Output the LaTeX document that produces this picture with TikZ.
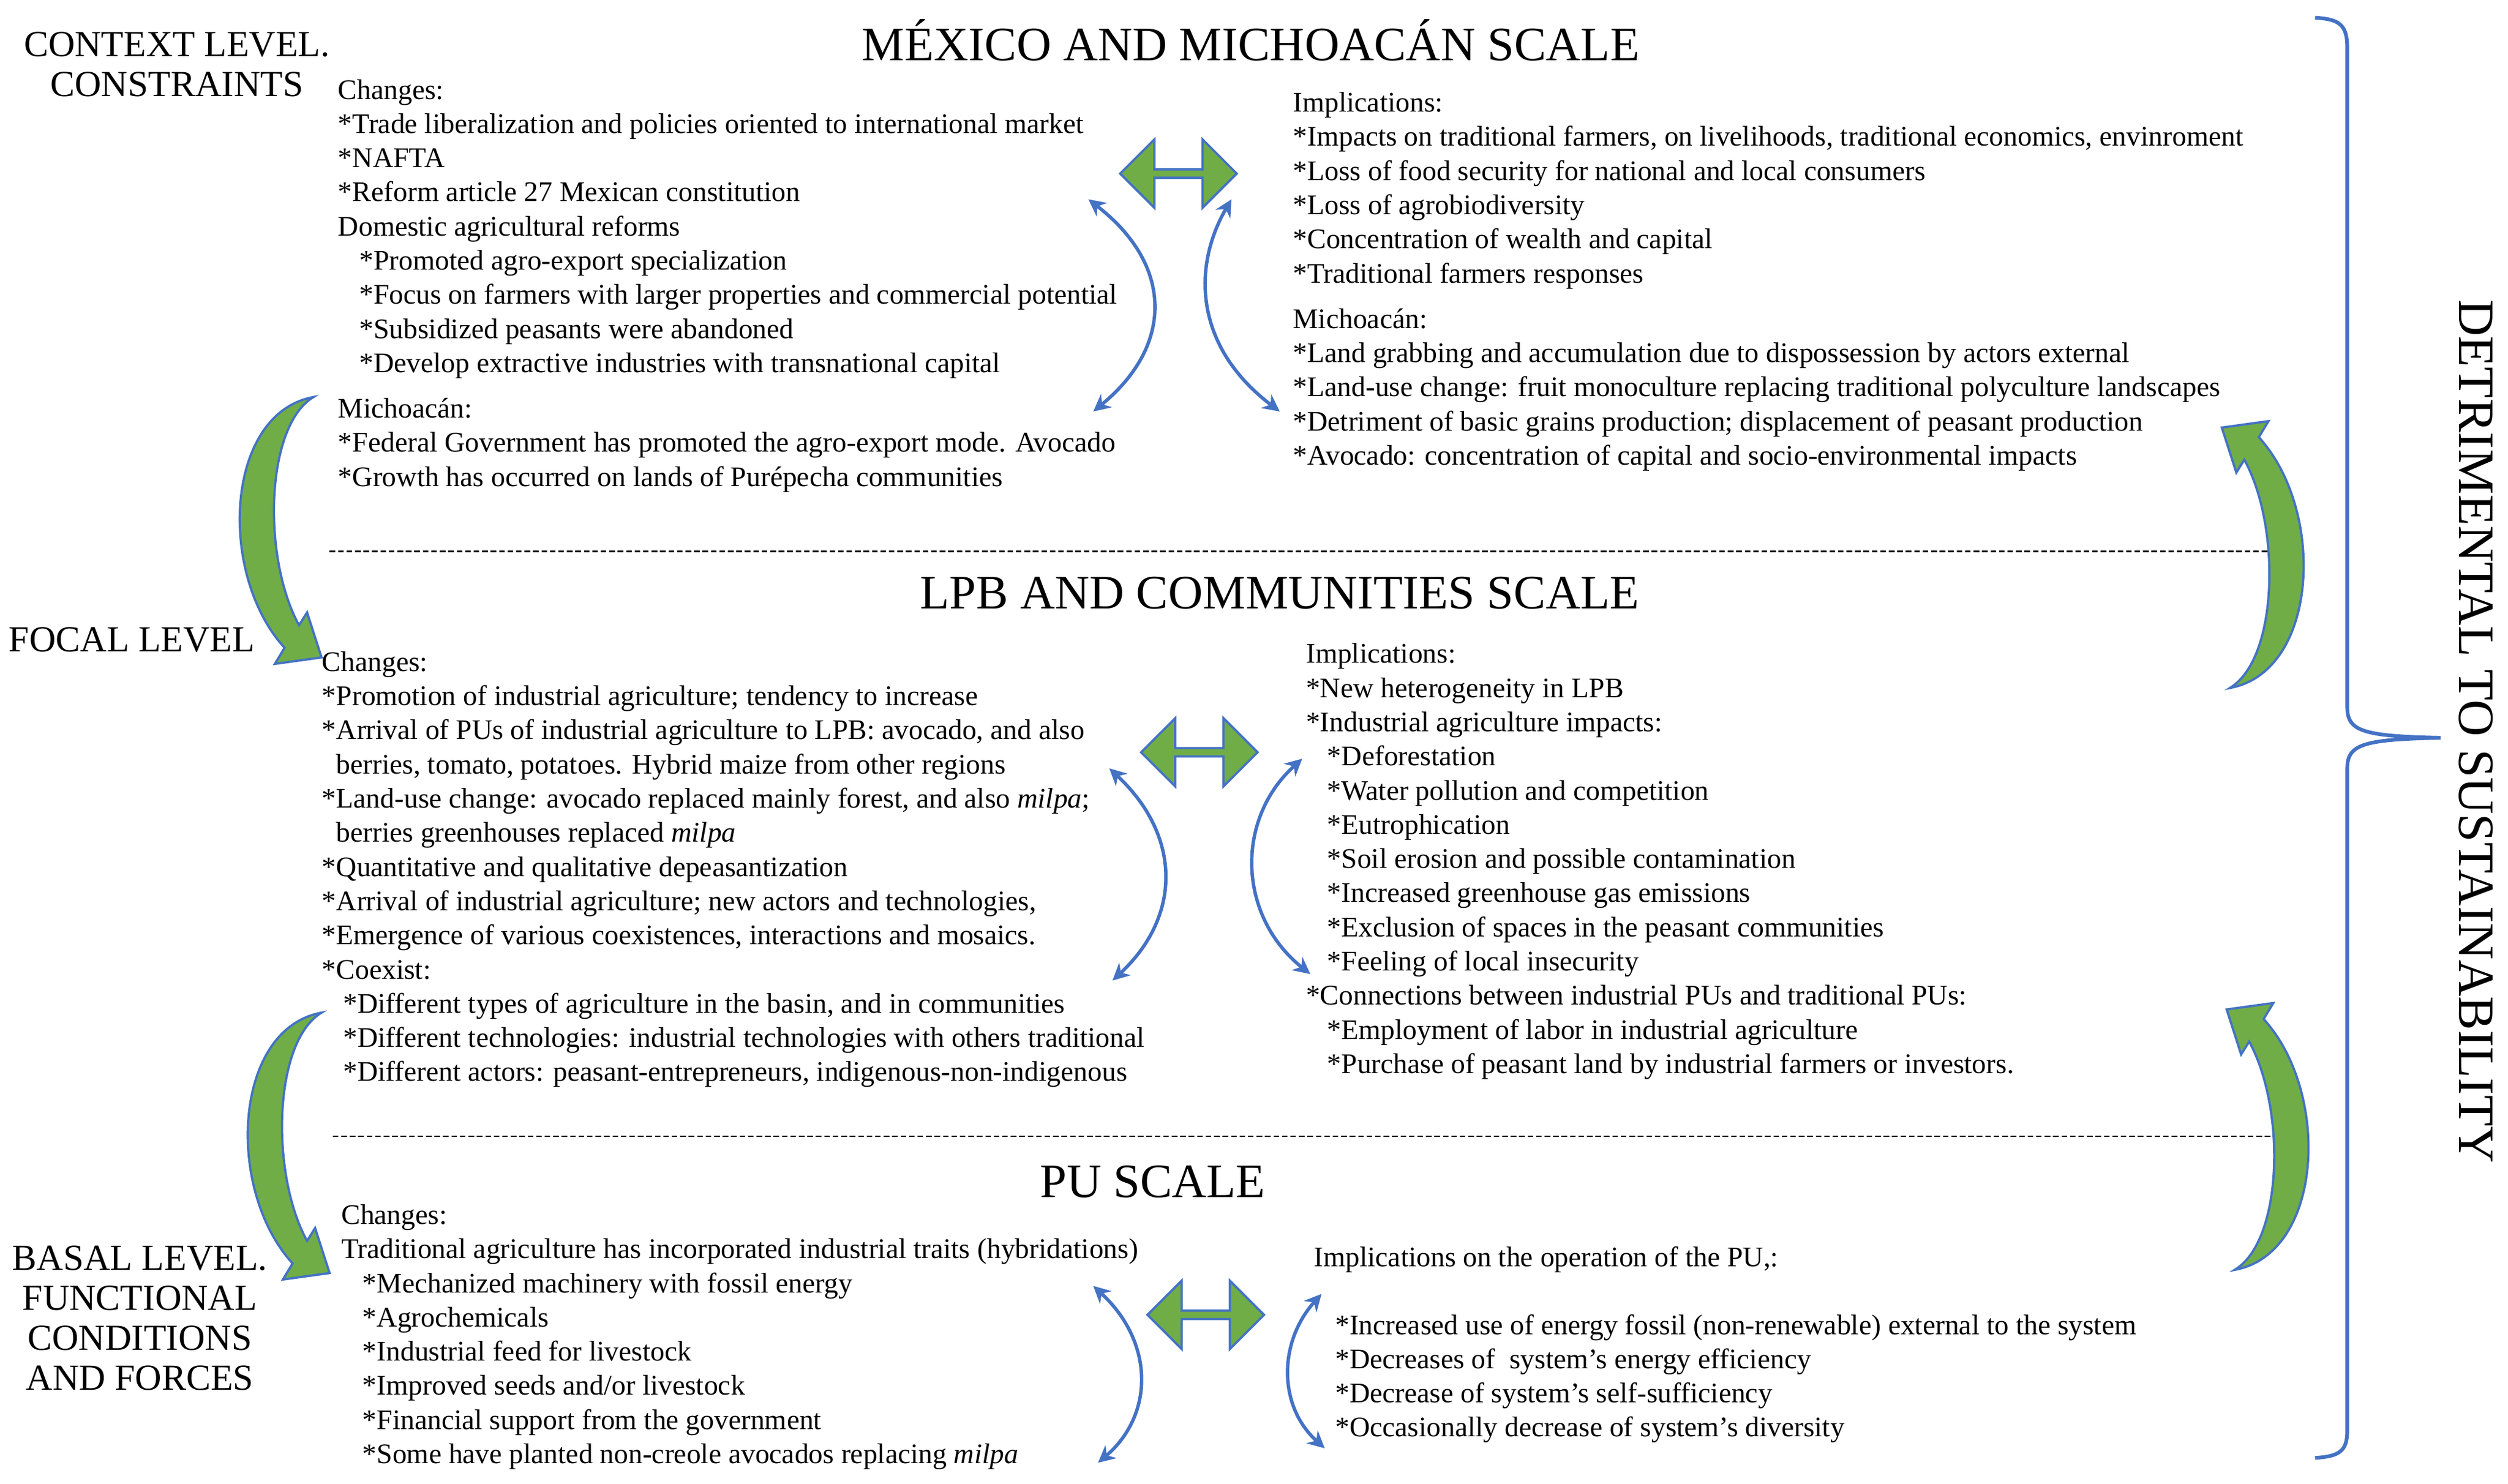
\documentclass[tikz,border=0pt]{standalone}
\usepackage{fontspec}
\setmainfont{Liberation Serif}
\usetikzlibrary{shapes.arrows,arrows.meta}
\definecolor{lineblue}{RGB}{68,114,196}
\definecolor{leafgreen}{RGB}{112,173,71}
\tikzset{
  body/.style={anchor=north west,align=left,inner sep=0pt,font=\fontsize{10.05}{12.1}\selectfont},
  scaletitle/.style={font=\fontsize{17}{20}\selectfont},
  leveltext/.style={align=center,inner sep=0pt,font=\fontsize{13}{14}\selectfont},
  swap/.style={double arrow,fill=leafgreen,draw=lineblue,thick,minimum width=0.85cm,
    double arrow head extend=0.1cm,minimum height=1.45cm,inner sep=0pt},
  link/.style={lineblue,line width=1.2pt,<->,>={Stealth[length=6pt,width=6pt]}},
  divider/.style={dashed,line width=0.5pt,dash pattern=on 2pt off 1pt}
}
\newcommand{\crescent}[2]{% position, transform
  \begin{scope}[shift={#1},#2]
    \filldraw[fill=leafgreen,draw=lineblue,thick]
      (0,0) .. controls (-55,10) and (-60,110) .. (-18,156)
      -- (-24,166) -- (5,162) -- (-4,134) -- (-9,142)
      .. controls (-32,100) and (-30,18) .. cycle;
  \end{scope}}
\newcommand{\ind}{\hspace*{0.75em}}
\begin{document}
\begin{tikzpicture}[x=0.02cm,y=-0.02cm]
\useasboundingbox (0,0) rectangle (1560,923);
% Titles and levels
\node[scaletitle] (mex) at (778,25) {MÉXICO AND MICHOACÁN SCALE};
\node[scaletitle] (lpb) at (796,369) {LPB AND COMMUNITIES SCALE};
\node[scaletitle] (pu) at (717,735) {PU SCALE};
\node[leveltext] (context) at (110,40) {CONTEXT LEVEL.\\CONSTRAINTS};
\node[leveltext] (focal) at (82,398) {FOCAL LEVEL};
\node[leveltext,font=\fontsize{13}{14.2}\selectfont] (basal) at (87,820) {BASAL LEVEL.\\FUNCTIONAL\\CONDITIONS\\AND FORCES};
% Top scale
\node[body] (chg1) at (210,49) {Changes:\\
*Trade liberalization and policies oriented to international market\\
*NAFTA\\
*Reform article 27 Mexican constitution\\
Domestic agricultural reforms\\
\ind*Promoted agro-export specialization\\
\ind*Focus on farmers with larger properties and commercial potential\\
\ind*Subsidized peasants were abandoned\\
\ind*Develop extractive industries with transnational capital\\[4pt]
Michoacán:\\
*Federal Government has promoted the agro-export mode. Avocado\\
*Growth has occurred on lands of Purépecha communities};
\node[body] (imp1) at (804,57) {Implications:\\
*Impacts on traditional farmers, on livelihoods, traditional economics, envinroment\\
*Loss of food security for national and local consumers\\
*Loss of agrobiodiversity\\
*Concentration of wealth and capital\\
*Traditional farmers responses\\[4pt]
Michoacán:\\
*Land grabbing and accumulation due to dispossession by actors external\\
*Land-use change: fruit monoculture replacing traditional polyculture landscapes\\
*Detriment of basic grains production; displacement of peasant production\\
*Avocado: concentration of capital and socio-environmental impacts};
\draw[divider] (205,343) -- (1415,343);
% Middle scale
\node[body] (chg2) at (200,405) {Changes:\\
*Promotion of industrial agriculture; tendency to increase\\
*Arrival of PUs of industrial agriculture to LPB: avocado, and also\\
\hspace*{0.5em}berries, tomato, potatoes. Hybrid maize from other regions\\
*Land-use change: avocado replaced mainly forest, and also \emph{milpa};\\
\hspace*{0.5em}berries greenhouses replaced \emph{milpa}\\
*Quantitative and qualitative depeasantization\\
*Arrival of industrial agriculture; new actors and technologies,\\
*Emergence of various coexistences, interactions and mosaics.\\
*Coexist:\\
\ind*Different types of agriculture in the basin, and in communities\\
\ind*Different technologies: industrial technologies with others traditional\\
\ind*Different actors: peasant-entrepreneurs, indigenous-non-indigenous};
\node[body] (imp2) at (812,400) {Implications:\\
*New heterogeneity in LPB\\
*Industrial agriculture impacts:\\
\ind*Deforestation\\
\ind*Water pollution and competition\\
\ind*Eutrophication\\
\ind*Soil erosion and possible contamination\\
\ind*Increased greenhouse gas emissions\\
\ind*Exclusion of spaces in the peasant communities\\
\ind*Feeling of local insecurity\\
*Connections between industrial PUs and traditional PUs:\\
\ind*Employment of labor in industrial agriculture\\
\ind*Purchase of peasant land by industrial farmers or investors.};
\draw[divider] (207,707) -- (1418,707);
% Bottom scale
\node[body] (chg3) at (212,749) {Changes:\\
Traditional agriculture has incorporated industrial traits (hybridations)\\
\ind*Mechanized machinery with fossil energy\\
\ind*Agrochemicals\\
\ind*Industrial feed for livestock\\
\ind*Improved seeds and/or livestock\\
\ind*Financial support from the government\\
\ind*Some have planted non-creole avocados replacing \emph{milpa}};
\node[body] (imp3) at (817,775) {Implications on the operation of the PU,:\\[12pt]
\ind*Increased use of energy fossil (non-renewable) external to the system\\
\ind*Decreases of \ system's energy efficiency\\
\ind*Decrease of system's self-sufficiency\\
\ind*Occasionally decrease of system's diversity};
% Green two-way arrows
\node[swap] (swap1) at (733,108) {};
\node[swap] (swap2) at (746,468) {};
\node[swap] (swap3) at (750,818) {};
% Blue curved links
\coordinate (a1) at (677,124); \coordinate (b1) at (680,256);
\coordinate (c1) at (766,124); \coordinate (d1) at (796,256);
\coordinate (a2) at (690,478); \coordinate (b2) at (692,610);
\coordinate (c2) at (810,472); \coordinate (d2) at (815,606);
\coordinate (a3) at (680,800); \coordinate (b3) at (683,910);
\coordinate (c3) at (822,805); \coordinate (d3) at (824,901);
\draw[link] (a1) .. controls (730,165) and (730,215) .. (b1);
\draw[link] (c1) .. controls (742,165) and (742,215) .. (d1);
\draw[link] (a2) .. controls (735,520) and (735,570) .. (b2);
\draw[link] (c2) .. controls (768,510) and (770,570) .. (d2);
\draw[link] (a3) .. controls (718,835) and (718,880) .. (b3);
\draw[link] (c3) .. controls (795,835) and (795,875) .. (d3);
% Green crescents
\crescent{(195,247)}{}
\crescent{(200,630)}{}
\crescent{(1387,428)}{scale=-1}
\crescent{(1390,790)}{scale=-1}
% Right brace
\draw[lineblue,line width=1.3pt] (1440,11) .. controls (1455,12) and (1460,15) .. (1460,30)
  -- (1460,440) .. controls (1460,455) and (1470,458) .. (1518,459)
  .. controls (1470,460) and (1460,463) .. (1460,478)
  -- (1460,890) .. controls (1460,903) and (1455,906) .. (1440,907);
\node[rotate=-90,font=\fontsize{18}{20}\selectfont] (detr) at (1540,455) {DETRIMENTAL TO SUSTAINABILITY};
\end{tikzpicture}
\end{document}
